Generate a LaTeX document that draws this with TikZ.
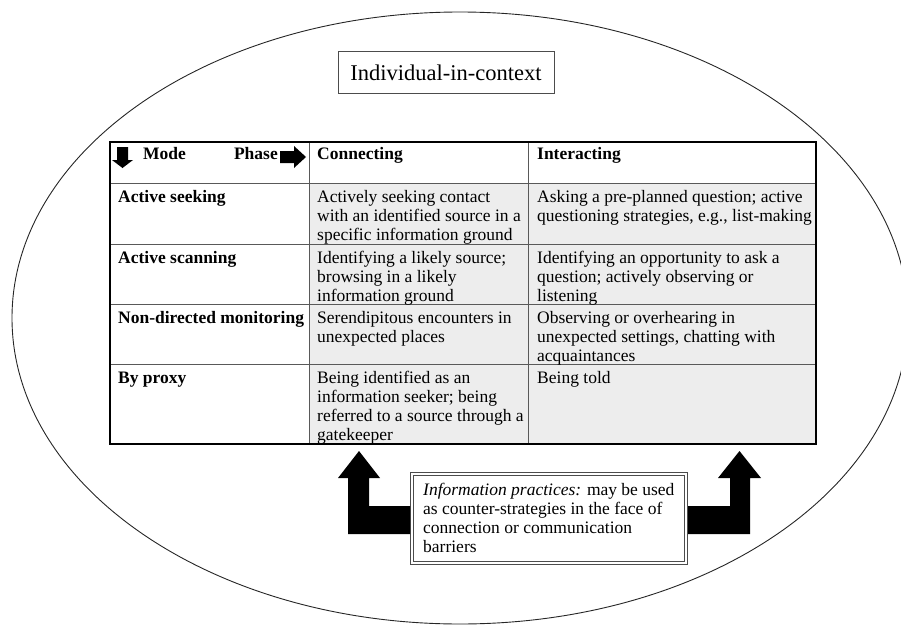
\documentclass[tikz,border=0pt]{standalone}
\usepackage{fontspec}
\setmainfont{Liberation Serif}
\begin{document}
\begin{tikzpicture}[x=1pt,y=-1pt,
  body/.style={inner sep=0pt, anchor=north west, align=left, font=\fontsize{17.5}{19}\selectfont},
  modetext/.style={body, font=\fontsize{17.5}{19}\selectfont\bfseries},
  outerline/.style={draw=black, line width=1.6pt},
  innerline/.style={draw=black!65, line width=0.9pt},
  blockarrow/.style={fill=black, draw=none},
  dblbox/.style={draw=black!70, double=white, double distance=2.4pt, line width=0.9pt, minimum width=274pt, minimum height=89pt, inner sep=0pt},
  titlebox/.style={draw=black!70, line width=1pt, minimum width=216pt, minimum height=41pt, inner sep=0pt, font=\fontsize{22.5}{26}\selectfont}
]
\useasboundingbox (0,0) rectangle (901,626);
% context ellipse
\draw[black!85, line width=0.9pt] (460,318) ellipse [x radius=448, y radius=306];
% title
\node[titlebox] (title) at (446,72.5) {Individual-in-context};
% table background and grid
\fill[black!7] (309,183) rectangle (816,444);
\foreach \yy in {183,244,304,364} \draw[innerline] (110,\yy) -- (816,\yy);
\draw[innerline] (309,142) -- (309,444);
\draw[innerline] (528,142) -- (528,444);
\draw[outerline] (110,142) rectangle (816,444);
% header arrows
\fill[blockarrow] (117,147) -- (128,147) -- (128,160) -- (133,160) -- (122.5,168) -- (112,160) -- (117,160) -- cycle;
\fill[blockarrow] (280,151) -- (294,151) -- (294,146) -- (306,157) -- (294,168) -- (294,163) -- (280,163) -- cycle;
% header texts (top = baseline - 13.3)
\node[modetext] (hmode) at (143,145.7) {\strut Mode};
\node[modetext, anchor=north east] (hphase) at (278,145.7) {\strut Phase};
\node[modetext] (hconn) at (317,145.7) {\strut Connecting};
\node[modetext] (hinter) at (537,145.7) {\strut Interacting};
% rows
\node[modetext] (m1) at (118,188.7) {\strut Active seeking};
\node[modetext] (m2) at (118,249.7) {\strut Active scanning};
\node[modetext] (m3) at (118,309.7) {\strut Non-directed monitoring};
\node[modetext] (m4) at (118,369.7) {\strut By proxy};
\node[body] (c1) at (317,188.7) {\strut Actively seeking contact\\with an identified source in a\\specific information ground};
\node[body] (c2) at (317,249.7) {\strut Identifying a likely source;\\browsing in a likely\\information ground};
\node[body] (c3) at (317,309.7) {\strut Serendipitous encounters in\\unexpected places};
\node[body] (c4) at (317,369.7) {\strut Being identified as an\\information seeker; being\\referred to a source through a\\gatekeeper};
\node[body] (i1) at (537,188.7) {\strut Asking a pre-planned question; active\\questioning strategies, e.g., list-making};
\node[body] (i2) at (537,249.7) {\strut Identifying an opportunity to ask a\\question; actively observing or\\listening};
\node[body] (i3) at (537,309.7) {\strut Observing or overhearing in\\unexpected settings, chatting with\\acquaintances};
\node[body] (i4) at (537,369.7) {\strut Being told};
% information practices box
\node[dblbox] (info) at (549,518.5) {};
\node[body] (infotext) at (423,481.7) {\strut\textit{Information practices:} may be used\\as counter-strategies in the face of\\connection or communication\\barriers};
% L-shaped block arrows from the box up to the table
\fill[blockarrow] (359,451) -- (380,478) -- (369,478) -- (369,506) -- (410,506) -- (410,534) -- (348,534) -- (348,478) -- (338,478) -- cycle;
\fill[blockarrow] (739.5,451) -- (761,478) -- (750,478) -- (750,534) -- (688,534) -- (688,506) -- (730,506) -- (730,478) -- (718,478) -- cycle;
\end{tikzpicture}
\end{document}
